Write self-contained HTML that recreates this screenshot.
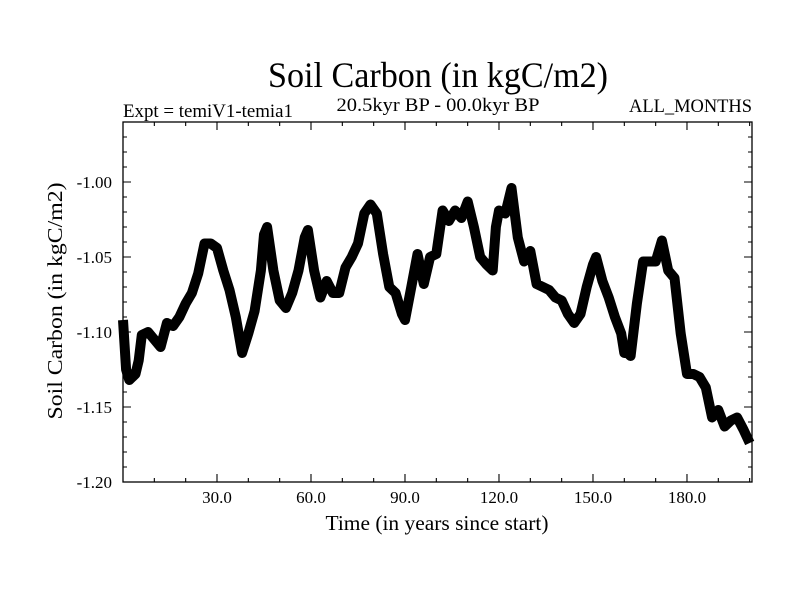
<!DOCTYPE html>
<html><head><meta charset="utf-8"><style>
html,body{margin:0;padding:0;background:#fff;}
svg{display:block;font-family:"Liberation Serif",serif;}
</style></head><body>
<svg id="chart" width="800" height="600" viewBox="0 0 800 600">
<text x="438" y="87" font-size="36" text-anchor="middle" textLength="340" lengthAdjust="spacingAndGlyphs">Soil Carbon (in kgC/m2)</text>
<text x="123" y="117" font-size="19" textLength="170" lengthAdjust="spacingAndGlyphs">Expt = temiV1-temia1</text>
<text x="438" y="111" font-size="19" text-anchor="middle" textLength="203" lengthAdjust="spacingAndGlyphs">20.5kyr BP - 00.0kyr BP</text>
<text x="752" y="112" font-size="19" text-anchor="end" textLength="123" lengthAdjust="spacingAndGlyphs">ALL_MONTHS</text>
<g id="axes"></g>
<text x="437" y="530" font-size="21" text-anchor="middle" textLength="223" lengthAdjust="spacingAndGlyphs">Time (in years since start)</text>
<text transform="translate(62,301) rotate(-90)" font-size="21" text-anchor="middle" textLength="237" lengthAdjust="spacingAndGlyphs">Soil Carbon (in kgC/m2)</text>
<g id="series"></g>
</svg>
<script>
const years = [0,1,2,3,4,5,6,8,10,12,14,16,18,20,22,24,26,28,30,32,34,36,38,40,42,44,45,46,48,50,52,54,56,58,59,61,63,65,67,69,71,73,75,77,79,81,83,85,87,89,90,92,94,96,98,100,102,104,106,108,110,112,114,116,118,119,120,122,124,126,128,130,132,134,136,138,140,142,144,146,148,150,151,153,155,157,159,160,161,162,164,166,168,170,172,174,176,178,180,182,184,186,188,190,192,194,196,198,200];
const carbon = [-1.092,-1.125,-1.132,-1.130,-1.128,-1.119,-1.102,-1.100,-1.105,-1.110,-1.094,-1.096,-1.090,-1.081,-1.074,-1.061,-1.041,-1.041,-1.044,-1.059,-1.072,-1.090,-1.114,-1.101,-1.086,-1.059,-1.035,-1.030,-1.059,-1.079,-1.084,-1.074,-1.059,-1.037,-1.032,-1.059,-1.077,-1.066,-1.074,-1.074,-1.057,-1.050,-1.041,-1.021,-1.015,-1.021,-1.048,-1.070,-1.074,-1.088,-1.092,-1.070,-1.048,-1.068,-1.050,-1.048,-1.019,-1.026,-1.019,-1.024,-1.013,-1.030,-1.050,-1.055,-1.059,-1.030,-1.019,-1.021,-1.004,-1.037,-1.053,-1.046,-1.068,-1.070,-1.072,-1.077,-1.079,-1.088,-1.094,-1.088,-1.070,-1.055,-1.050,-1.066,-1.077,-1.090,-1.101,-1.114,-1.114,-1.116,-1.081,-1.053,-1.053,-1.053,-1.039,-1.059,-1.064,-1.101,-1.128,-1.128,-1.130,-1.137,-1.157,-1.152,-1.163,-1.159,-1.157,-1.165,-1.174];
const xTickValues = [30,60,90,120,150,180];
const xTickLabels = ["30.0","60.0","90.0","120.0","150.0","180.0"];
const yTickValues = [-1.20,-1.15,-1.10,-1.05,-1.00];
const yTickLabels = ["-1.20","-1.15","-1.10","-1.05","-1.00"];

const NS = "http://www.w3.org/2000/svg";
const L=123,R=752,T=122,B=482, X0=0,X1=200.75, Y0=-1.20,Y1=-0.96;
const sx = v => L + (v-X0)/(X1-X0)*(R-L);
const sy = v => B - (v-Y0)/(Y1-Y0)*(B-T);
function mk(tag, attrs, parent){const e=document.createElementNS(NS,tag);for(const k in attrs)e.setAttribute(k,attrs[k]);parent.appendChild(e);return e;}
const axes=document.getElementById('axes');
const frame=mk('rect',{x:L,y:T,width:R-L,height:B-T,fill:'none',stroke:'#000','stroke-width':1.3},axes);


let d='';
for(let v=10;v<X1;v+=10){const len=(v%30===0)?8:4;const x=sx(v);d+=`M${x} ${B}v${-len}M${x} ${T}v${len}`;}
for(let i=0;i<=24;i++){const v=Y0+i*0.01;const len=(i%5===0)?8:4;const y=sy(v);d+=`M${L} ${y}h${len}M${R} ${y}h${-len}`;}
const ticks=mk('path',{d:d,stroke:'#000','stroke-width':1.1,fill:'none'},axes);


xTickValues.forEach((v,i)=>{const t=mk('text',{x:sx(v),y:503,'font-size':17,'text-anchor':'middle'},axes);t.textContent=xTickLabels[i];

});
yTickValues.forEach((v,i)=>{const t=mk('text',{x:112,y:sy(v)+6,'font-size':17,'text-anchor':'end'},axes);t.textContent=yTickLabels[i];

});
const series=document.getElementById('series');
const pts=years.map((y,i)=>`${sx(y).toFixed(1)},${sy(carbon[i]).toFixed(1)}`).join(' ');
const line=mk('polyline',{points:pts,fill:'none',stroke:'#000','stroke-width':10,'stroke-linejoin':'round','stroke-linecap':'butt'},series);


</script>
</body></html>
